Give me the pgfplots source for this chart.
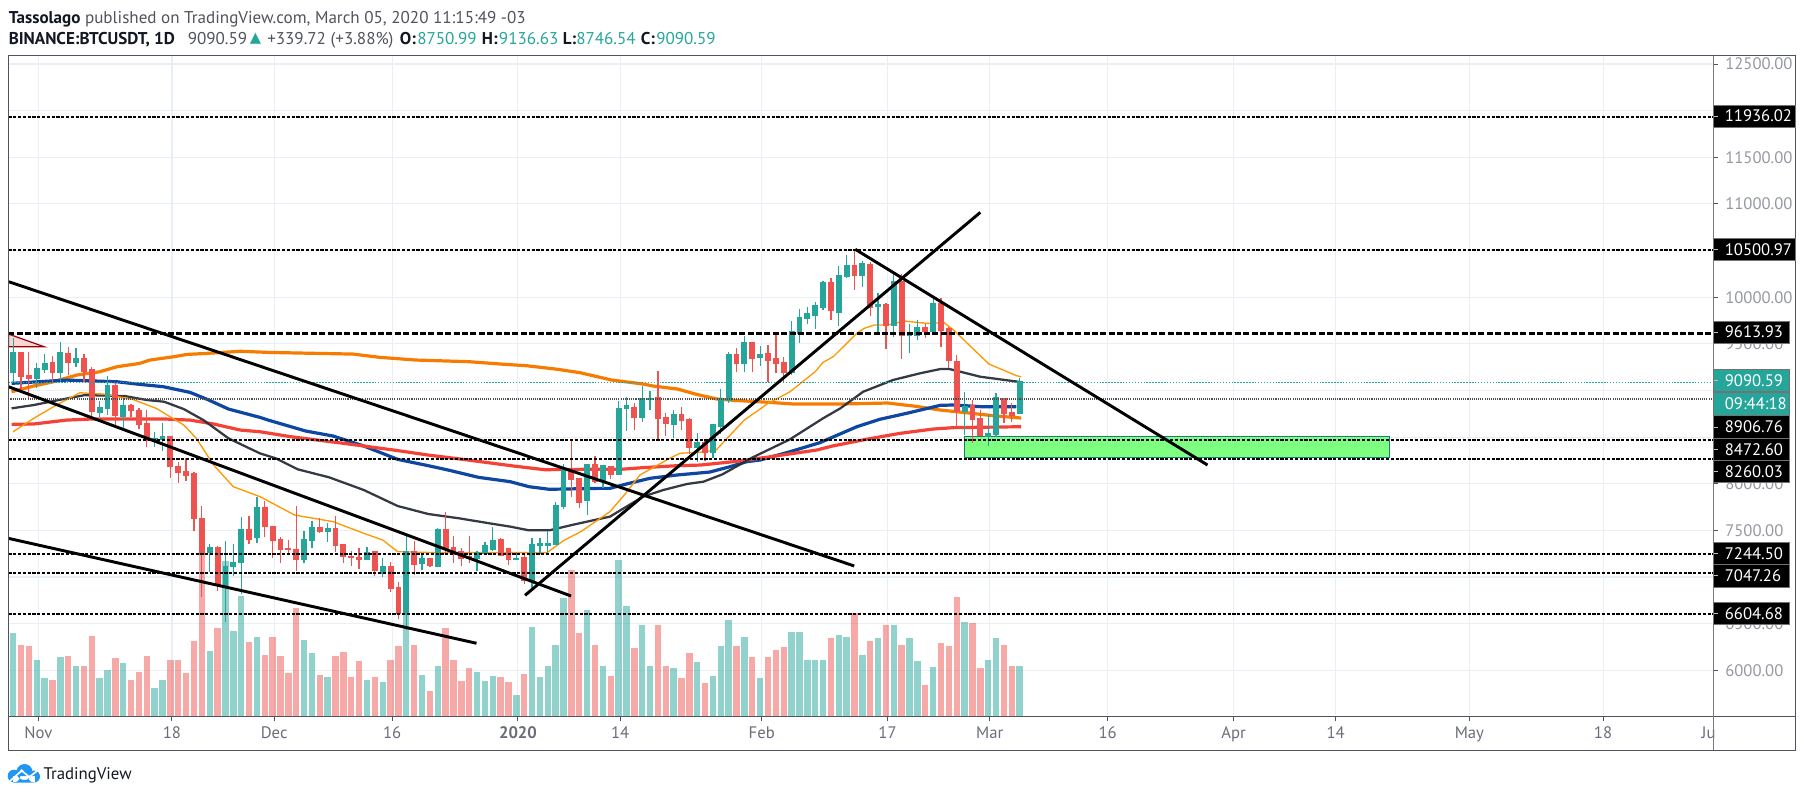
\documentclass[border=0pt]{standalone}
\usepackage{fontspec}
\setmainfont{PT Sans}
\newfontfamily\djv{DejaVu Sans}
\usepackage{pgfplots}
\usepackage{pgfplotstable}
\pgfplotsset{compat=1.18}
\definecolor{tvup}{HTML}{26A69A}
\definecolor{tvdn}{HTML}{EF5350}
\definecolor{tvgrid}{HTML}{E9EFF5}
\definecolor{tvframe}{HTML}{50535E}
\definecolor{tvtick}{HTML}{9598A1}
\definecolor{tvxlab}{HTML}{6A6D78}
\definecolor{tvtext}{HTML}{131722}
\definecolor{maorange}{HTML}{F57C00}
\definecolor{mablue}{HTML}{0D47A1}
\definecolor{mared}{HTML}{F44336}
\definecolor{madark}{HTML}{2A2E39}
\definecolor{mathin}{HTML}{FF9800}
\definecolor{zonegreen}{HTML}{7FFF7F}
\definecolor{zoneedge}{HTML}{1E7A7A}
\definecolor{tvblue}{HTML}{2196F3}

% d O H L C V  (d = days since 1 Nov 2019; V = bar height)
\pgfplotstableread{
d O H L C V
-3 9200 9562 9093 9408 83
0 9129 9290 9022 9236 56
1 9226 9386 9183 9290 38
3 9200 9515 9093 9408 59
5 9304 9451 9247 9340 50
8 8765 8886 8711 8815 38
9 8808 9154 8736 9047 46
11 8725 8904 8568 8833 53
15 8461 8550 8390 8482 28
16 8482 8647 8354 8507 36
22 7268 7350 7057 7318 65
24 6889 7385 6520 7110 155
25 7110 7350 7014 7157 85
26 7153 7646 6817 7503 120
28 7421 7853 7360 7743 79
34 7189 7493 7146 7396 76
35 7389 7600 7307 7532 63
37 7486 7575 7371 7518 39
42 7189 7325 7180 7264 36
44 7039 7200 6996 7114 34
47 6603 7439 6435 7271 103
49 7146 7236 7075 7200 41
51 7118 7529 7103 7511 50
56 7200 7282 7064 7264 44
57 7253 7371 7236 7332 35
58 7300 7532 7282 7386 40
61 7186 7271 7180 7200 21
63 6950 7414 6878 7343 89
64 7339 7414 7246 7357 39
65 7339 7493 7253 7357 50
66 7350 7807 7340 7761 71
67 7754 8211 7725 8147 118
70 7818 8210 7665 8200 106
72 8022 8200 7950 8190 50
74 8100 8886 8090 8808 156
75 8808 8926 8565 8833 110
77 8711 9047 8658 8915 91
78 8901 8997 8790 8915 50
81 8636 8790 8486 8736 48
84 8390 8540 8236 8443 54
86 8336 8640 8272 8629 40
87 8611 9012 8533 8915 70
88 8897 9408 8861 9387 96
90 9290 9583 9194 9515 79
92 9351 9476 9262 9383 38
96 9190 9748 9165 9630 84
97 9612 9869 9512 9783 84
98 9773 9890 9712 9826 56
99 9808 9948 9662 9905 56
100 9890 10176 9862 10158 56
102 9837 10334 9690 10226 81
103 10219 10451 10210 10334 79
105 10230 10384 10105 10355 61
107 9898 10048 9619 9915 78
109 9701 10248 9569 10166 91
111 9587 9712 9397 9601 78
112 9587 9755 9540 9673 55
114 9637 9994 9630 9933 49
118 8779 8979 8522 8826 94
121 8511 8747 8404 8533 56
122 8529 8969 8504 8926 78
125 8750.99 9136.63 8746.54 9090.59 50
}\uptable
\pgfplotstableread{
d O H L C V
-2 9408 9408 8986 9147 71
-1 9154 9408 8904 9129 70
2 9301 9368 9076 9200 36
4 9394 9461 9165 9304 60
6 9340 9386 9093 9211 50
7 9218 9254 8693 8772 80
10 9047 9076 8604 8729 58
12 8833 8854 8718 8783 36
13 8779 8808 8582 8636 44
14 8643 8790 8390 8461 60
17 8507 8507 8057 8182 56
18 8186 8232 8004 8125 56
19 8132 8272 8032 8086 43
20 8111 8129 7496 7628 75
21 7625 7761 6790 7246 166
23 7318 7332 6853 6907 88
27 7503 7653 7353 7407 74
29 7747 7818 7425 7539 61
30 7539 7539 7200 7389 79
31 7396 7425 7146 7296 60
32 7307 7396 7236 7293 43
33 7289 7761 7068 7189 108
36 7532 7629 7468 7486 41
38 7518 7654 7271 7336 60
39 7343 7343 7146 7218 64
40 7221 7278 7121 7207 39
41 7211 7307 7082 7193 55
43 7268 7278 7014 7068 39
45 7114 7164 6843 6878 56
46 6889 6943 6546 6610 70
48 7271 7386 7021 7136 71
50 7200 7200 7103 7128 25
52 7511 7693 7246 7307 88
53 7318 7439 7146 7246 56
54 7271 7307 7118 7200 35
55 7218 7439 7146 7200 48
59 7396 7414 7220 7228 39
60 7300 7300 7128 7193 34
62 7211 7261 6925 6968 42
68 8147 8458 7854 8047 146
69 8054 8054 7736 7797 83
71 8200 8297 8004 8022 71
73 8183 8183 8047 8104 40
76 8819 8861 8576 8711 68
79 8926 9208 8458 8697 91
80 8711 8761 8511 8647 50
82 8736 8819 8576 8676 38
83 8683 8701 8318 8390 63
85 8443 8468 8247 8336 33
89 9380 9451 9201 9290 70
91 9515 9522 9194 9344 59
93 9397 9483 9094 9326 59
94 9340 9630 9190 9290 66
95 9301 9362 9094 9194 69
101 10158 10201 9755 9855 78
104 10334 10516 10076 10230 103
106 10344 10380 9798 9890 75
108 9915 9933 9444 9701 91
110 10166 10248 9340 9587 71
113 9676 9712 9558 9637 31
115 9933 9994 9462 9648 73
116 9658 9683 9237 9319 70
117 9312 9380 8611 8772 119
119 8833 8897 8433 8694 93
120 8697 8790 8511 8522 48
123 8915 8922 8654 8754 71
124 8761 8861 8665 8736 50
}\downtable

\pgfplotsset{
  base/.style={
    at={(6.225pt,-537.225pt)}, anchor=south west,
    scale only axis, width=1279.05pt, height=495.45pt,
    xmin=-3.815, xmax=213.07,
  },
  price/.style={base, ymin=5506, ymax=12589},
  candlebar/.style n args={3}{
    draw=none, mark=none, forget plot,
    error bars/.cd, y dir=both, y explicit, error mark=none,
    error bar style={draw=#2, line width=#1, solid, #3},
  },
  hl/.style={black, line width=1.45pt, dash pattern=on 2.5pt off 1.1pt, forget plot},
}

\begin{document}
\begin{tikzpicture}
\path[use as bounding box] (0pt,0pt) rectangle (1353pt,-597.75pt);

% --- scale, grid, ticks ---
\begin{axis}[price,
  axis x line*=bottom, axis y line*=right,
  axis line style={tvframe, line width=0.75pt},
  tick align=outside, major tick length=3.3pt,
  tick style={tvframe, line width=0.75pt},
  grid=major, grid style={tvgrid, line width=0.8pt},
  xtick={0,17,30,45,61,74,92,108,121,136,152,165,182,199,213},
  xticklabels={Nov,18,Dec,16,\textbf{2020},14,Feb,17,Mar,16,Apr,14,May,18,Jun},
  ytick={6000,6500,7000,7500,8000,8500,9000,9500,10000,10500,11000,11500,12000,12500},
  yticklabels={6000.00,6500.00,,7500.00,8000.00,,,9500.00,10000.00,,11000.00,11500.00,,12500.00},
  scaled y ticks=false,
  xticklabel style={font=\fontsize{12.5}{14}\selectfont, text=tvxlab, yshift=-0.8pt},
  yticklabel style={font=\fontsize{12.5}{14}\selectfont, text=tvtick, anchor=west, inner xsep=0pt, xshift=5.2pt},
]
\addplot[draw=none, forget plot] coordinates {(0,6000) (100,12000)};
\end{axis}

% --- volume ---
\begin{axis}[base, ymin=0, ymax=660.6, hide axis]
\addplot[ycomb, mark=none, tvup, opacity=0.5, line width=4.8pt] table[x expr=\thisrow{d}-0.2, y=V] {\uptable};
\addplot[ycomb, mark=none, tvdn, opacity=0.5, line width=4.8pt] table[x expr=\thisrow{d}-0.2, y=V] {\downtable};
\end{axis}

% --- prices ---
\begin{axis}[price, hide axis]
% marked triangle
\addplot[fill=tvdn!25, draw=red!60!black, line width=0.9pt, forget plot] coordinates {(-3.8,9605) (0.76,9468) (-3.8,9468)} --cycle;
% moving averages
\addplot[maorange, line width=2.4pt, line join=round] coordinates {(-3.4,8986)(-0.6,9047)(1.9,9093)(4.9,9165)(7.8,9200)(10,9254)(12.9,9290)(14.2,9326)(17.2,9361)(18.9,9386)(21.4,9397)(25.7,9420)(29.2,9408)(34.9,9398)(40,9390)(43.4,9355)(48,9326)(54.8,9308)(59.3,9280)(62.1,9265)(66.1,9226)(68.9,9190)(72.9,9112)(76.9,9069)(78.2,9047)(81.3,9015)(83.7,8958)(86.3,8908)(88.6,8893)(93,8872)(96.1,8854)(102,8854)(108,8865)(111.3,8833)(114.7,8790)(118,8761)(121.4,8729)(125,8704)};
\addplot[mablue, line width=2.4pt, line join=round] coordinates {(-3.4,9076)(-0.6,9090)(3.6,9111)(10,9093)(12.9,9065)(15.9,9040)(19.3,8979)(21.6,8900)(24.2,8800)(28.2,8711)(29.2,8683)(34,8565)(37.5,8511)(41.4,8404)(45.7,8261)(49.6,8193)(52.1,8147)(56,8068)(60,8022)(62.4,7968)(65,7940)(71.4,7950)(72.7,7950)(74.8,7997)(77.8,8058)(81.2,8093)(85.4,8125)(88,8183)(90.1,8236)(91.8,8254)(95.6,8343)(99.4,8440)(104.1,8611)(107,8690)(110.4,8754)(114.7,8840)(116.4,8844)(119.8,8826)(124.4,8826)};
\addplot[mared, line width=2.4pt, line join=round] coordinates {(-3.4,8636)(-0.6,8640)(3.6,8682)(6.6,8693)(16.3,8693)(19.3,8682)(22.3,8640)(25.7,8575)(28.2,8557)(32.1,8504)(38.9,8432)(45.2,8361)(49.6,8307)(54,8261)(60.4,8190)(64.4,8150)(69.3,8154)(74,8154)(76.9,8172)(81.2,8193)(84.2,8200)(88.4,8236)(92.6,8283)(99,8361)(101,8404)(105.3,8476)(109.6,8540)(113.8,8586)(116.4,8601)(125,8611)};
\addplot[madark, opacity=0.95, line width=1.7pt, line join=round] coordinates {(-3.4,8808)(-0.6,8843)(2.6,8897)(5.9,8950)(11,8940)(13.8,8897)(16,8879)(18.5,8800)(21,8682)(24.2,8486)(26.7,8385)(28.2,8325)(30.2,8272)(33,8154)(37,8068)(41.4,7932)(45.7,7761)(49.6,7675)(53.5,7629)(57.9,7568)(60,7540)(62.4,7500)(65,7500)(68,7560)(72.7,7647)(76.9,7861)(79.5,7933)(82.5,7997)(84.6,8022)(87,8100)(90.8,8280)(95.6,8476)(99.8,8701)(102,8808)(104.9,8986)(108.7,9112)(112.1,9183)(114.7,9229)(115.9,9229)(119.8,9147)(124.9,9090)};
\addplot[mathin, line width=1pt, line join=round] coordinates {(-3.2,8557)(-0.6,8700)(2.3,8843)(5.3,8975)(8.3,8961)(12,8904)(15,8808)(18.5,8629)(20.1,8486)(22.3,8200)(24.8,7968)(28.2,7861)(32.6,7664)(37.5,7593)(41.4,7468)(43.8,7396)(45.7,7271)(50.6,7261)(64.7,7261)(66.8,7390)(69,7486)(72.7,7700)(74.7,7897)(76.5,8093)(80.3,8272)(81.6,8326)(84.2,8338)(86.2,8361)(89.8,8683)(92.8,8860)(95.6,8986)(98.8,9201)(99.8,9301)(101.1,9362)(104.1,9612)(105,9665)(106.3,9701)(108,9701)(110.1,9744)(113.1,9719)(115.2,9726)(116.4,9648)(118.6,9469)(120.9,9283)(124.4,9158)(125,9147)};
% buy zone
\addplot[fill=zonegreen, draw=zoneedge, line width=0.8pt, forget plot] coordinates {(117.77,8504) (171.8,8504) (171.8,8279) (117.77,8279)} --cycle;
% candles: wicks then bodies
\addplot[candlebar={0.95pt}{tvup}{}] table[x expr=\thisrow{d}-0.2, y expr={(\thisrow{H}+\thisrow{L})/2}, y error expr={(\thisrow{H}-\thisrow{L})/2}] {\uptable};
\addplot[candlebar={0.95pt}{tvdn}{}] table[x expr=\thisrow{d}-0.2, y expr={(\thisrow{H}+\thisrow{L})/2}, y error expr={(\thisrow{H}-\thisrow{L})/2}] {\downtable};
\addplot[candlebar={4.4pt}{tvup}{}] table[x expr=\thisrow{d}-0.2, y expr={(\thisrow{O}+\thisrow{C})/2}, y error expr={abs(\thisrow{C}-\thisrow{O})/2+8}] {\uptable};
\addplot[candlebar={4.4pt}{tvdn}{}] table[x expr=\thisrow{d}-0.2, y expr={(\thisrow{O}+\thisrow{C})/2}, y error expr={abs(\thisrow{C}-\thisrow{O})/2+8}] {\downtable};
% level lines
\addplot[tvup, line width=0.7pt, dash pattern=on 1.1pt off 1.1pt, forget plot] coordinates {(-3.815,9090.59) (213.07,9090.59)};
\addplot[black!70, line width=1.1pt, dash pattern=on 0.8pt off 0.8pt, forget plot] coordinates {(-3.815,8906.76) (213.07,8906.76)};
\addplot[hl] coordinates {(-3.815,11936.02) (213.07,11936.02)};
\addplot[hl] coordinates {(-3.815,10500.97) (213.07,10500.97)};
\addplot[black, line width=2.25pt, dash pattern=on 4.5pt off 1.8pt, forget plot] coordinates {(-3.815,9613.93) (213.07,9613.93)};
\addplot[hl] coordinates {(-3.815,8472.60) (213.07,8472.60)};
\addplot[hl] coordinates {(-3.815,8260.03) (213.07,8260.03)};
\addplot[hl] coordinates {(-3.815,7244.50) (213.07,7244.50)};
\addplot[hl] coordinates {(-3.815,7047.26) (213.07,7047.26)};
\addplot[hl] coordinates {(-3.815,6604.68) (213.07,6604.68)};
% trend lines
\addplot[black, line width=2.2pt, forget plot] coordinates {(-3.74,10165) (103.76,7118)};
\addplot[black, line width=2.2pt, forget plot] coordinates {(-3.8,9040) (67.75,6796)};
\addplot[black, line width=2.2pt, forget plot] coordinates {(-3.8,7414) (55.73,6289)};
\addplot[black, line width=2.2pt, forget plot] coordinates {(61.9,6803) (119.8,10909)};
\addplot[black, line width=2.2pt, forget plot] coordinates {(103.9,10513) (148.7,8200)};
\end{axis}

\begin{scope}[x=0.75pt,y=-0.75pt]
% frame
\fill[white] (1714.5,717) rectangle (1795,749.5);
\draw[tvframe, line width=0.85pt] (8.3,55.7) rectangle (1795.7,750.3);
\draw[tvframe, line width=0.75pt] (1713.7,716.3) -- (1795.7,716.3);
\draw[tvtick!80!black, line width=1.1pt] (1713.7,55.7) -- (1713.7,750.3);
% price labels
\def\pl#1#2#3#4#5{\filldraw[fill=#4, draw=black!55, line width=0.4pt] (1713.7,#1) rectangle (#3,#2);
  \node[anchor=west, inner sep=0pt, text=white, font=\fontsize{12.5}{14}\selectfont] at (1724.6,{(#1+#2)/2}) {#5};}
\pl{105}{127.3}{1795.7}{black}{11936.02}
\pl{238.7}{260.7}{1795.7}{black}{10500.97}
\pl{321}{343.3}{1789}{black}{9613.93}
\pl{369.3}{391.7}{1789}{tvup}{9090.59}
\pl{392.2}{415.7}{1789}{tvup}{09:44:18}
\pl{415.7}{438.3}{1789}{black}{8906.76}
\pl{438.3}{460.7}{1789}{black}{8472.60}
\pl{460.7}{482.7}{1789}{black}{8260.03}
\pl{542.3}{564.3}{1789}{black}{7244.50}
\pl{564.3}{587}{1789}{black}{7047.26}
\pl{602.3}{624.3}{1789}{black}{6604.68}
\foreach \ty in {116.2,249.7,332.2,380.5,427,449.5,471.7,553.3,575.7,613.3}
  \draw[tvtick!60!white, line width=0.75pt] (1714,\ty) -- (1718,\ty);
% header
\def\hd#1#2#3{\node[anchor=base west, inner sep=0pt, font=\fontsize{12.8}{15}\selectfont] at (#1,#2) {#3};}
\hd{8.5}{23}{\textcolor{tvtext}{\textbf{Tassolago}} \textcolor{tvframe}{published on TradingView.com, March 05, 2020 11:15:49 -03}}
\hd{8.5}{44.3}{\textcolor{tvtext}{\textbf{BINANCE:BTCUSDT, 1D}}}
\hd{187.5}{44.3}{\textcolor{tvframe}{9090.59}}
\hd{249.5}{42.5}{\textcolor{tvup}{\djv\fontsize{11}{13}\selectfont ▲}}
\hd{267}{44.3}{\textcolor{tvframe}{+339.72 (+3.88\%)}}
\hd{399.6}{44.3}{\textcolor{tvtext}{\textbf{O:}}}
\hd{417}{44.3}{\textcolor{tvup}{8750.99}}
\hd{481.7}{44.3}{\textcolor{tvtext}{\textbf{H:}}}
\hd{498.7}{44.3}{\textcolor{tvup}{9136.63}}
\hd{562.5}{44.3}{\textcolor{tvtext}{\textbf{L:}}}
\hd{576}{44.3}{\textcolor{tvup}{8746.54}}
\hd{640.6}{44.3}{\textcolor{tvtext}{\textbf{C:}}}
\hd{656}{44.3}{\textcolor{tvup}{9090.59}}
% logo
\fill[tvblue] (14,776) circle (6.3) (34,776.5) circle (6) (24.5,772) circle (8)
  (13,776) rectangle (35,782.7);
\draw[white, line width=1.2pt] (10,781) -- (21.7,770.7) -- (29.3,777) -- (37,771);
\fill[white] (21.7,770.7) circle (1.6) (29.3,777) circle (1.6);
\node[anchor=base west, inner sep=0pt, text=tvtext, font=\fontsize{12.6}{15}\selectfont] at (43.3,779.5) {TradingView};
\end{scope}
\end{tikzpicture}
\end{document}
